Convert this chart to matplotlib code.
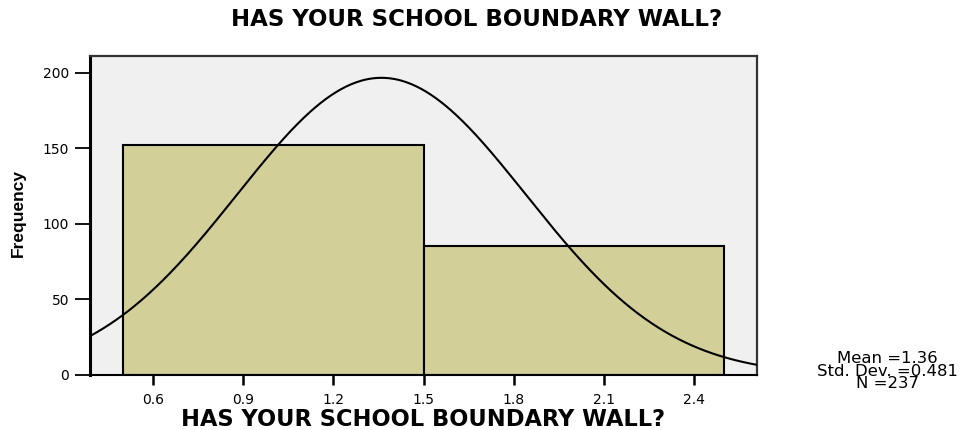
import numpy as np
import matplotlib
matplotlib.use("Agg")
import matplotlib.pyplot as plt

# Data
values = [1, 2]
counts = [152, 85]
mean_val = 1.36
std_val = 0.481
n_val = 237
xticks = [0.6, 0.9, 1.2, 1.5, 1.8, 2.1, 2.4]
yticks = [0, 50, 100, 150, 200]
title = "HAS YOUR SCHOOL BOUNDARY WALL?"
ylabel = "Frequency"
stats_lines = [f"Mean ={mean_val}", f"Std. Dev. ={std_val}", f"N ={n_val}"]

plt.rcParams['font.family'] = ['DejaVu Sans']

W, H = 973, 430
fig = plt.figure(figsize=(W / 100, H / 100), dpi=100)
ax = fig.add_axes([90 / W, 1 - 375 / H, (757 - 90) / W, (375 - 56) / H])
ax.set_facecolor("#f0f0f0")

ax.bar(values, counts, width=1.0, color="#d3cf99", edgecolor="black", linewidth=1.5, zorder=2)

xlim = (0.39, 2.61)
xs = np.linspace(xlim[0], xlim[1], 400)
ys = n_val * 1.0 / (std_val * np.sqrt(2 * np.pi)) * np.exp(-0.5 * ((xs - mean_val) / std_val) ** 2)
ax.plot(xs, ys, color="black", linewidth=1.5, zorder=3)

ax.set_xlim(*xlim)
ax.set_ylim(0, 211)
ax.set_xticks(xticks)
ax.set_xticklabels([f"{t:.1f}" for t in xticks], fontsize=10)
ax.set_yticks(yticks)
ax.set_yticklabels([str(t) for t in yticks], fontsize=10)
ax.tick_params(axis='x', length=7, width=1.8, color="black", pad=6)
ax.tick_params(axis='y', length=11, width=1.3, color="black", pad=4)

ax.spines["left"].set_linewidth(2.2)
ax.spines["bottom"].set_linewidth(1.5)
for s in ["top", "right"]:
    ax.spines[s].set_linewidth(1.6)
    ax.spines[s].set_color("#333333")

renderer = fig.canvas.get_renderer()


def fit_text(x, y, s, target_w, size0=12, **kw):
    t = fig.text(x / W, 1 - y / H, s, ha="center", va="center", fontsize=size0, **kw)
    w = t.get_window_extent(renderer=renderer).width
    t.set_fontsize(size0 * target_w / w)
    return t


fit_text(477, 19, title, 490, fontweight="bold")
fit_text(423, 420, title, 483, fontweight="bold")
fig.text(18 / W, 1 - 213 / H, ylabel, ha="center", va="center", rotation=90,
         fontsize=12.5, fontweight="bold", family=["Liberation Sans", "DejaVu Sans"])

stats = fit_text(887, 371, "\n".join(stats_lines), 140, multialignment="center", linespacing=0.8)

fig.savefig("out.png", dpi=100)
